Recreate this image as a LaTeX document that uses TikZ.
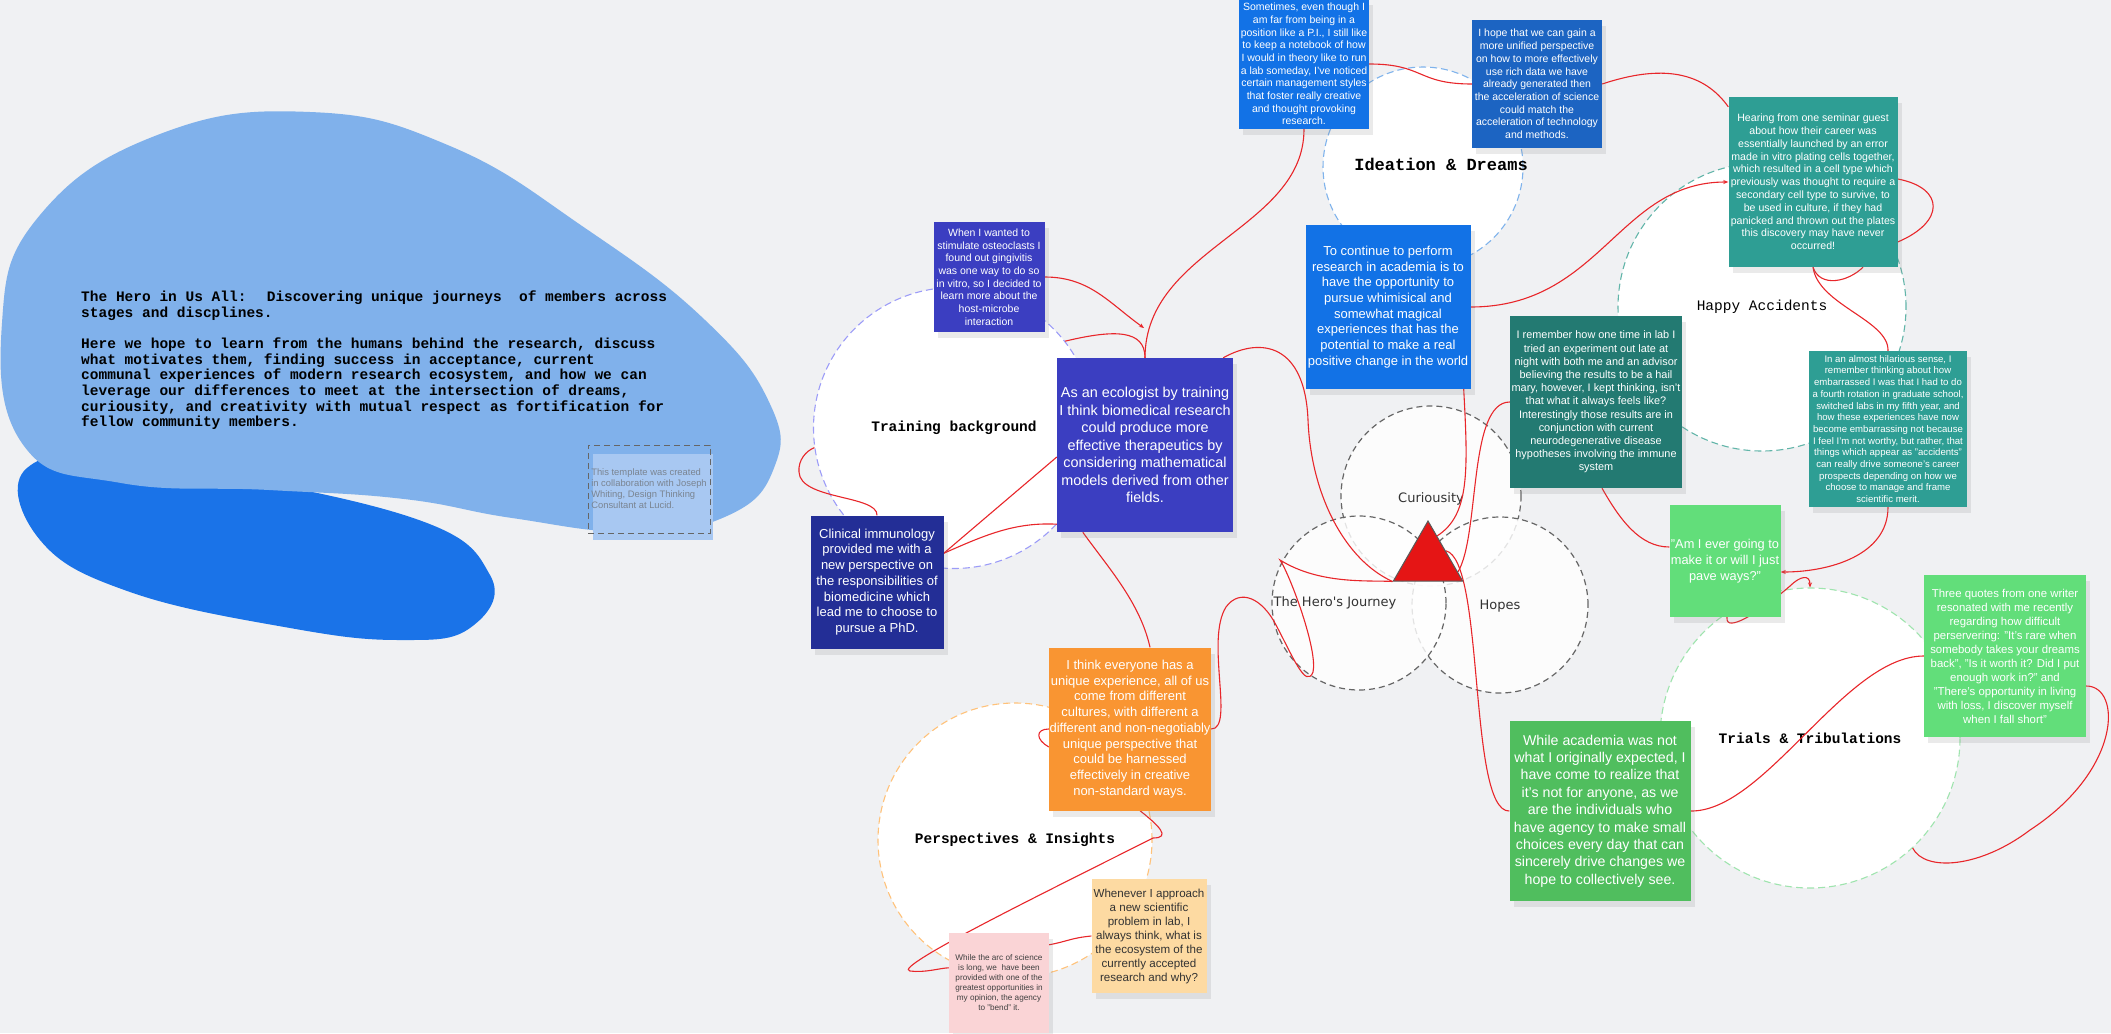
\documentclass[tikz,border=0pt]{standalone}
\usepackage{fontspec}
\setmainfont{Liberation Sans}
\newfontfamily\codefont{Liberation Mono}
\newfontfamily\roundfont{DejaVu Sans}
\usetikzlibrary{arrows.meta, calc, shapes.geometric, shadows}
\definecolor{paper}{HTML}{F0F1F3}
\definecolor{blobpale}{HTML}{80B1EB}
\definecolor{blobdark}{HTML}{1A73E8}
\definecolor{credbg}{HTML}{A8C8F2}
\definecolor{credtext}{HTML}{7A8491}
\definecolor{brightblue}{HTML}{1272E6}
\definecolor{deepblue}{HTML}{1C64C2}
\definecolor{indigo}{HTML}{3B3EC1}
\definecolor{navy}{HTML}{232E96}
\definecolor{teal}{HTML}{2E9E94}
\definecolor{darkteal}{HTML}{237A72}
\definecolor{lgreen}{HTML}{62DE7A}
\definecolor{mgreen}{HTML}{50BE5E}
\definecolor{orange}{HTML}{F99532}
\definecolor{peach}{HTML}{FDDAA2}
\definecolor{pink}{HTML}{FAD4D6}
\definecolor{linkred}{HTML}{E8262A}
\definecolor{trainc}{HTML}{9C9CF8}
\definecolor{ideac}{HTML}{7FB3EC}
\definecolor{happyc}{HTML}{62B5A9}
\definecolor{trialc}{HTML}{9FE4AE}
\definecolor{perspc}{HTML}{FFC27A}
\definecolor{venngray}{HTML}{666666}
\definecolor{trired}{HTML}{E51515}
\pgfdeclarelayer{circles}
\pgfdeclarelayer{lines}
\pgfsetlayers{circles,lines,main}

\begin{document}
\begin{tikzpicture}[x=1pt, y=-1pt,
    note/.style={rectangle, inner sep=0pt, align=center, text=white, drop shadow={shadow xshift=4pt, shadow yshift=-6pt, opacity=0.16}},
    txt/.style 2 args={font=\fontsize{#1}{#2}\selectfont},
    ring/.style={circle, fill=white, dash pattern=on 7pt off 4pt, line width=1.1pt, inner sep=0pt, font=\codefont\bfseries\fontsize{14.5}{16}\selectfont},
    venn/.style={circle, draw=venngray, fill=white, fill opacity=0.82, dash pattern=on 6pt off 4pt, line width=1.2pt, inner sep=0pt},
    vlabel/.style={font=\roundfont\fontsize{13}{15}\selectfont, text=black!80},
    link/.style={draw=linkred, line width=1.1pt},
    pointed/.style={-{Stealth[length=5pt, width=4pt]}}
]
\useasboundingbox (0,0) rectangle (2111,1033);

\begin{pgfonlayer}{circles}
\fill[paper] (0,0) rectangle (2111,1033);
\fill[blobdark] plot[smooth cycle, tension=0.7] coordinates {(27,468) (40,540) (130,592) (290,628) (400,640) (470,628) (490,575) (404,515) (135,462)};
\fill[blobpale] plot[smooth cycle, tension=0.75] coordinates {(2,323) (40,215) (160,134) (310,112) (450,146) (585,228) (705,320) (770,404) (774,468) (727,516) (633,532) (512,518) (404,499) (269,490) (121,483) (24,446)};
\node[anchor=north west, inner sep=0pt, align=left, font=\codefont\bfseries\fontsize{14.5}{15.6}\selectfont] (intro) at (81,291) {The Hero in Us All:~ Discovering unique journeys~ of members across\\stages and discplines.\\[15.6pt]Here we hope to learn from the humans behind the research, discuss\\what motivates them, finding success in acceptance, current\\communal experiences of modern research ecosystem, and how we can\\leverage our differences to meet at the intersection of dreams,\\curiousity, and creativity with mutual respect as fortification for\\fellow community members.};
\node[fill=credbg, minimum width=120, minimum height=86, inner sep=0pt] (credbg) at (653,497) {};
\node[draw=black!60, dash pattern=on 6pt off 4pt, line width=0.9pt, minimum width=122, minimum height=88, inner sep=0pt, align=left, text=credtext, txt={9.4}{11}] (credit) at (649,489) {This template was created\\in collaboration with Joseph\\Whiting, Design Thinking\\Consultant at Lucid.};

\node[ring, draw=trainc, minimum size=281] (train) at (954,428) {Training background};
\node[ring, draw=ideac, minimum size=200] (ideat) at (1423,167) {};
\node[font=\codefont\bfseries\fontsize{17}{19}\selectfont] (ideatname) at (1441,164) {Ideation \& Dreams};
\node[ring, draw=happyc, minimum size=288, font=\codefont\fontsize{14.5}{16}\selectfont] (happy) at (1762,307) {Happy Accidents};
\node[ring, draw=trialc, minimum size=300] (trials) at (1810,738) {Trials \& Tribulations};
\node[ring, draw=perspc, minimum size=274] (persp) at (1015,840) {Perspectives \& Insights};

\node[venn, minimum size=180] (curio) at (1431,496) {};
\node[venn, minimum size=176] (hopes) at (1500,605) {};
\node[venn, minimum size=174] (hero) at (1359,603) {};
\node[vlabel] (curiolbl) at (1431,499) {Curiousity};
\node[vlabel] (herolbl) at (1335,603) {The Hero's Journey};
\node[vlabel] (hopeslbl) at (1500,606) {Hopes};
\end{pgfonlayer}

\node[note, fill=brightblue, minimum width=130, minimum height=130, txt={10.5}{12.7}] (some) at (1304,64) {Sometimes, even though I\\am far from being in a\\position like a P.I., I still like\\to keep a notebook of how\\I would in theory like to run\\a lab someday, I've noticed\\certain management styles\\that foster really creative\\and thought provoking\\research.};
\node[note, fill=deepblue, minimum width=130, minimum height=128, txt={10.5}{12.7}] (hope) at (1537,84) {I hope that we can gain a\\more unified perspective\\on how to more effectively\\use rich data we have\\already generated then\\the acceleration of science\\could match the\\acceleration of technology\\and methods.};
\node[note, fill=indigo, minimum width=111, minimum height=110, txt={10.5}{12.7}] (osteo) at (989,277) {When I wanted to\\stimulate osteoclasts I\\found out gingivitis\\was one way to do so\\in vitro, so I decided to\\learn more about the\\host-microbe\\interaction};
\node[note, fill=indigo, minimum width=176, minimum height=174, txt={14.4}{17.5}] (ecol) at (1145,445) {As an ecologist by training\\I think biomedical research\\could produce more\\effective therapeutics by\\considering mathematical\\models derived from other\\fields.};
\node[note, fill=brightblue, minimum width=165, minimum height=164, txt={13}{15.7}] (contin) at (1388,307) {To continue to perform\\research in academia is to\\have the opportunity to\\pursue whimisical and\\somewhat magical\\experiences that has the\\potential to make a real\\positive change in the world};
\node[note, fill=teal, minimum width=169, minimum height=170, txt={10.6}{12.8}] (hear) at (1813,182) {Hearing from one seminar guest\\about how their career was\\essentially launched by an error\\made in vitro plating cells together,\\which resulted in a cell type which\\previously was thought to require a\\secondary cell type to survive, to\\be used in culture, if they had\\panicked and thrown out the plates\\this discovery may have never\\occurred!};
\node[note, fill=darkteal, minimum width=172, minimum height=172, txt={10.9}{13.2}] (remem) at (1596,402) {I remember how one time in lab I\\tried an experiment out late at\\night with both me and an advisor\\believing the results to be a hail\\mary, however, I kept thinking, isn't\\that what it always feels like?\\Interestingly those results are in\\conjunction with current\\neurodegenerative disease\\hypotheses involving the immune\\system};
\node[note, fill=teal, minimum width=158, minimum height=156, txt={9.6}{11.7}] (embar) at (1888,429) {In an almost hilarious sense, I\\remember thinking about how\\embarrassed I was that I had to do\\a fourth rotation in graduate school,\\switched labs in my fifth year, and\\how these experiences have now\\become embarrassing not because\\I feel I'm not worthy, but rather, that\\things which appear as "accidents"\\can really drive someone's career\\prospects depending on how we\\choose to manage and frame\\scientific merit.};
\node[note, fill=lgreen, minimum width=111, minimum height=112, txt={12.8}{16}] (pave) at (1725,561) {"Am I ever going to\\make it or will I just\\pave ways?"};
\node[note, fill=lgreen, minimum width=162, minimum height=162, txt={11.4}{14}] (quotes) at (2005,656) {Three quotes from one writer\\resonated with me recently\\regarding how difficult\\perservering: "It's rare when\\somebody takes your dreams\\back", "Is it worth it? Did I put\\enough work in?" and\\"There's opportunity in living\\with loss, I discover myself\\when I fall short"};
\node[note, fill=mgreen, minimum width=181, minimum height=180, txt={14.2}{17.4}] (acad) at (1600,811) {While academia was not\\what I originally expected, I\\have come to realize that\\it's not for anyone, as we\\are the individuals who\\have agency to make small\\choices every day that can\\sincerely drive changes we\\hope to collectively see.};
\node[note, fill=navy, minimum width=133, minimum height=133, txt={13}{15.7}] (clin) at (877,582) {Clinical immunology\\provided me with a\\new perspective on\\the responsibilities of\\biomedicine which\\lead me to choose to\\pursue a PhD.};
\node[note, fill=orange, minimum width=162, minimum height=163, txt={13}{15.7}] (unique) at (1130,729) {I think everyone has a\\unique experience, all of us\\come from different\\cultures, with different a\\different and non-negotiably\\unique perspective that\\could be harnessed\\effectively in creative\\non-standard ways.};
\node[note, fill=peach, text=black!80, minimum width=115, minimum height=114, txt={11.6}{14}] (whenever) at (1149,936) {Whenever I approach\\a new scientific\\problem in lab, I\\always think, what is\\the ecosystem of the\\currently accepted\\research and why?};
\node[note, fill=pink, text=black!75, minimum width=100, minimum height=100, txt={8.2}{10}] (arc) at (999,983) {While the arc of science\\is long, we~ have been\\provided with one of the\\greatest opportunities in\\my opinion, the agency\\to "bend" it.};

\node[regular polygon, regular polygon sides=3, fill=trired, draw=black!65, line width=1pt, minimum size=80, inner sep=0pt] (tri) at (1428,561) {};

\begin{pgfonlayer}{lines}
\coordinate (joint) at (1144,328);
\draw[link] (some.east) .. controls +(55,0) and +(-55,0) .. (hope.west);
\draw[link] (hope.east) .. controls +(60,-20) and +(-25,-35) .. ($(hear.north west)+(0,10)$);
\draw[link] (some.south) .. controls +(0,100) and +(0,-110) .. (ecol.north);
\draw[link, pointed] (osteo.east) .. controls +(45,0) and +(-35,-25) .. (joint);
\draw[link] (train.38) .. controls +(50,-12) and +(0,-28) .. (ecol.north);
\draw[link] ($(ecol.north east)+(-10,0)$) .. controls (1262,336) and (1305,345) .. (1308,420) .. controls (1311,495) and (1345,560) .. (tri.corner 2);
\draw[link, pointed] (contin.east) .. controls +(130,0) and +(-110,0) .. (hear.west);
\draw[link] ($(contin.south east)+(-7,0)$) .. controls (1468,470) and (1470,515) .. (tri.70);
\draw[link] (remem.west) .. controls (1468,402) and (1480,535) .. (tri.-20);
\draw[link] (acad.west) .. controls (1468,812) and (1485,560) .. (tri.30);
\draw[link] (unique.east) .. controls (1235,729) and (1205,640) .. (1226,607) .. controls (1240,588) and (1262,598) .. (1276,625) .. controls (1292,655) and (1306,690) .. (1313,672) .. controls (1318,650) and (1290,575) .. (1280,560) .. controls (1320,585) and (1370,580) .. (tri.corner 2);
\draw[link] ($(ecol.south west)+(26,0)$) .. controls +(25,35) and +(-10,-45) .. ($(unique.north)+(20,0)$);
\draw[link] (unique.west) .. controls (1035,729) and (1036,740) .. ($(unique.west)+(0,18)$);
\draw[link] ($(unique.south)+(10,0)$) .. controls (1158,825) and (1172,838) .. (1153,838) .. controls (1050,890) and (890,968) .. (910,971) .. controls (925,973) and (940,968) .. ($(arc.north west)+(0,35)$);
\draw[link] (whenever.west) .. controls +(-20,2) and +(20,-4) .. ($(arc.north east)+(0,12)$);
\draw[link] ($(clin.north east)+(0,38)$) -- ($(ecol.west)+(0,12)$);
\draw[link] ($(clin.north east)+(0,38)$) .. controls (985,535) and (1015,522) .. ($(ecol.south west)+(0,-8)$);
\draw[link] (clin.north) .. controls (878,495) and (800,500) .. (799,472) .. controls (798,460) and (806,451) .. (train.188);
\draw[link] (hear.south) .. controls (1818,305) and (1889,320) .. (embar.north);
\draw[link] (hear.south) .. controls (1820,288) and (1848,282) .. ($(hear.south)+(50,0)$);
\draw[link] ($(hear.east)+(0,-3)$) .. controls (1945,188) and (1945,222) .. ($(hear.east)+(0,60)$);
\draw[link, pointed] (embar.south) .. controls (1888,555) and (1830,572) .. ($(pave.east)+(0,11)$);
\draw[link] ($(remem.south)+(6,0)$) .. controls (1620,520) and (1640,547) .. ($(pave.west)+(0,-14)$);
\draw[link, pointed] ($(pave.south)+(2,0)$) .. controls (1725,634) and (1760,612) .. (1790,586) .. controls (1800,576) and (1810,574) .. (trials.north);
\draw[link] (acad.east) .. controls (1765,812) and (1845,656) .. (quotes.west);
\draw[link] ($(quotes.east)+(0,30)$) .. controls (2122,686) and (2122,770) .. (2030,830) .. controls (1980,868) and (1925,872) .. (trials.-47);
\end{pgfonlayer}
\end{tikzpicture}
\end{document}
